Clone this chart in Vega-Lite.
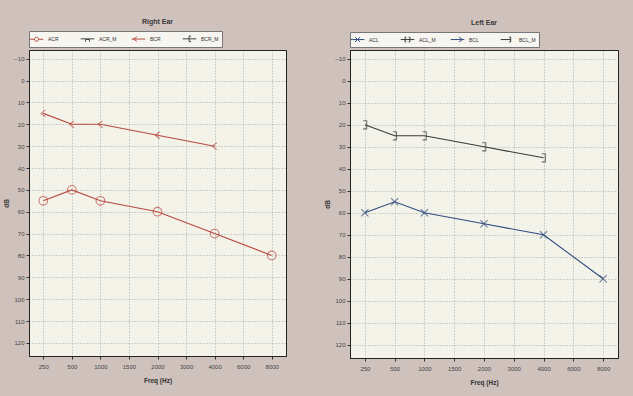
{
  "$schema": "https://vega.github.io/schema/vega-lite/v6.json",
  "background": "#cfc2bd",
  "padding": {"left": 3, "top": 17, "right": 14, "bottom": 14},
  "spacing": 37,
  "resolve": {"scale": {"color": "independent", "x": "independent", "y": "independent"}, "legend": {"color": "independent"}},
  "config": {
    "font": "Liberation Sans",
    "view": {"fill": "#f4f3ea", "stroke": "#222222", "strokeWidth": 1},
    "axis": {
      "labelFontSize": 6, "titleFontSize": 6.5, "titleFontWeight": "bold",
      "labelColor": "#444444", "titleColor": "#333333", "tickColor": "#333333",
      "domainColor": "#222222", "gridColor": "#9a9a9a", "gridDash": [1, 2],
      "gridOpacity": 0.8, "tickSize": 3, "labelPadding": 2, "titlePadding": 4
    },
    "axisX": {"labelPadding": 4, "titlePadding": 8},
    "title": {"fontSize": 7, "fontWeight": "bold", "color": "#3a3a3a", "offset": 6},
    "legend": {
      "labelFontSize": 5, "labelColor": "#333333", "symbolSize": 64,
      "symbolStrokeWidth": 1, "padding": 3, "strokeColor": "#777777",
      "fillColor": "#f6f5f0", "columnPadding": 12, "labelOffset": 7,
      "symbolFillColor": "transparent", "offset": 3
    }
  },
  "datasets": {
    "right": [
      {"series": "ACR", "freq": "250", "db": 55},
      {"series": "ACR", "freq": "500", "db": 50},
      {"series": "ACR", "freq": "1000", "db": 55},
      {"series": "ACR", "freq": "2000", "db": 60},
      {"series": "ACR", "freq": "4000", "db": 70},
      {"series": "ACR", "freq": "8000", "db": 80},
      {"series": "BCR", "freq": "250", "db": 15},
      {"series": "BCR", "freq": "500", "db": 20},
      {"series": "BCR", "freq": "1000", "db": 20},
      {"series": "BCR", "freq": "2000", "db": 25},
      {"series": "BCR", "freq": "4000", "db": 30}
    ],
    "left": [
      {"series": "ACL", "freq": "250", "db": 60},
      {"series": "ACL", "freq": "500", "db": 55},
      {"series": "ACL", "freq": "1000", "db": 60},
      {"series": "ACL", "freq": "2000", "db": 65},
      {"series": "ACL", "freq": "4000", "db": 70},
      {"series": "ACL", "freq": "8000", "db": 90},
      {"series": "BCL_M", "freq": "250", "db": 20},
      {"series": "BCL_M", "freq": "500", "db": 25},
      {"series": "BCL_M", "freq": "1000", "db": 25},
      {"series": "BCL_M", "freq": "2000", "db": 30},
      {"series": "BCL_M", "freq": "4000", "db": 35}
    ]
  },
  "hconcat": [
    {
      "title": "Right Ear",
      "width": 257, "height": 306,
      "data": {"name": "right"},
      "encoding": {
        "x": {"field": "freq", "type": "ordinal", "title": "Freq (Hz)",
              "scale": {"type": "point", "padding": 0.5, "domain": ["250","500","1000","1500","2000","3000","4000","6000","8000"]},
              "axis": {"labelAngle": 0, "grid": true}},
        "y": {"field": "db", "type": "quantitative", "title": "dB",
              "scale": {"domain": [-14, 126], "reverse": true, "nice": false, "zero": false},
              "axis": {"values": [-10,0,10,20,30,40,50,60,70,80,90,100,110,120], "grid": true}},
        "color": {"field": "series", "type": "nominal",
                  "scale": {"domain": ["ACR","ACR_M","BCR","BCR_M"], "range": ["#b8483e","#444444","#b8483e","#444444"]},
                  "legend": null}
      },
      "layer": [
        {
          "mark": {"type": "line", "strokeWidth": 1.1},
          "encoding": {
            "color": {"field": "series", "type": "nominal",
                  "scale": {"domain": ["ACR","ACR_M","BCR","BCR_M"], "range": ["#b8483e","#444444","#b8483e","#444444"]},
                  "legend": {"orient": "top", "direction": "horizontal", "columns": 4, "gridAlign": "all", "title": null,
                             "encode": {"symbols": {
                               "update": {"shape": {"signal": "datum.value === 'ACR' ? 'M-1.7,0H-0.5M0.5,0H1.7M0.5,0A0.5,0.5,0,1,1,-0.5,0A0.5,0.5,0,1,1,0.5,0' : datum.value === 'ACR_M' ? 'M-1.7,0H1.7M-0.5,0.7V0.15H0.5V0.7' : datum.value === 'BCR' ? 'M-1.7,0H1.7M-0.4,-0.6L-1.2,0L-0.4,0.6' : 'M-1.7,0H1.7M0.4,-0.7H-0.1V0.7H0.4'"}, "fill": {"value": "transparent"}, "strokeWidth": {"value": 1}}}}}}
          }
        },
        {
          "transform": [{"filter": "datum.series === 'ACR'"}],
          "mark": {"type": "point", "filled": false, "strokeWidth": 1.1, "size": 75, "shape": "circle"}
        },
        {
          "transform": [{"filter": "datum.series === 'BCR'"}],
          "mark": {"type": "point", "filled": false, "strokeWidth": 1.1, "size": 75, "shape": "M0.5,-0.8L-0.5,0L0.5,0.8"}
        }
      ]
    },
    {
      "title": "Left Ear",
      "width": 268, "height": 308,
      "data": {"name": "left"},
      "encoding": {
        "x": {"field": "freq", "type": "ordinal", "title": "Freq (Hz)",
              "scale": {"type": "point", "padding": 0.5, "domain": ["250","500","1000","1500","2000","3000","4000","6000","8000"]},
              "axis": {"labelAngle": 0, "grid": true}},
        "y": {"field": "db", "type": "quantitative", "title": "dB",
              "scale": {"domain": [-14, 126], "reverse": true, "nice": false, "zero": false},
              "axis": {"values": [-10,0,10,20,30,40,50,60,70,80,90,100,110,120], "grid": true}},
        "color": {"field": "series", "type": "nominal",
                  "scale": {"domain": ["ACL","ACL_M","BCL","BCL_M"], "range": ["#2f4c7e","#3a3a3a","#2f4c7e","#3a3a3a"]},
                  "legend": null}
      },
      "layer": [
        {
          "mark": {"type": "line", "strokeWidth": 1.1},
          "encoding": {
            "color": {"field": "series", "type": "nominal",
                  "scale": {"domain": ["ACL","ACL_M","BCL","BCL_M"], "range": ["#2f4c7e","#3a3a3a","#2f4c7e","#3a3a3a"]},
                  "legend": {"orient": "top", "direction": "horizontal", "columns": 4, "gridAlign": "all", "title": null,
                             "encode": {"symbols": {
                               "update": {"shape": {"signal": "datum.value === 'ACL' ? 'M-1.7,0H1.7M-0.6,-0.6L0.6,0.6M-0.6,0.6L0.6,-0.6' : datum.value === 'ACL_M' ? 'M-1.7,0H1.7M-0.3,-0.6H-0.6V0.6H-0.3M0.3,-0.6H0.6V0.6H0.3' : datum.value === 'BCL' ? 'M-1.7,0H1.7M0.4,-0.6L1.2,0L0.4,0.6' : 'M-1.7,0H0.8M0.4,-0.6H0.8V0.6H0.4'"}, "fill": {"value": "transparent"}, "strokeWidth": {"value": 1}}}}}}
          }
        },
        {
          "transform": [{"filter": "datum.series === 'ACL'"}],
          "mark": {"type": "point", "filled": false, "strokeWidth": 1.1, "size": 80, "shape": "M-0.8,-0.8L0.8,0.8M-0.8,0.8L0.8,-0.8"}
        },
        {
          "transform": [{"filter": "datum.series === 'BCL_M'"}],
          "mark": {"type": "point", "filled": false, "strokeWidth": 1.1, "size": 80, "shape": "M-0.4,-0.9H0.4V0.9H-0.4"}
        }
      ]
    }
  ]
}
